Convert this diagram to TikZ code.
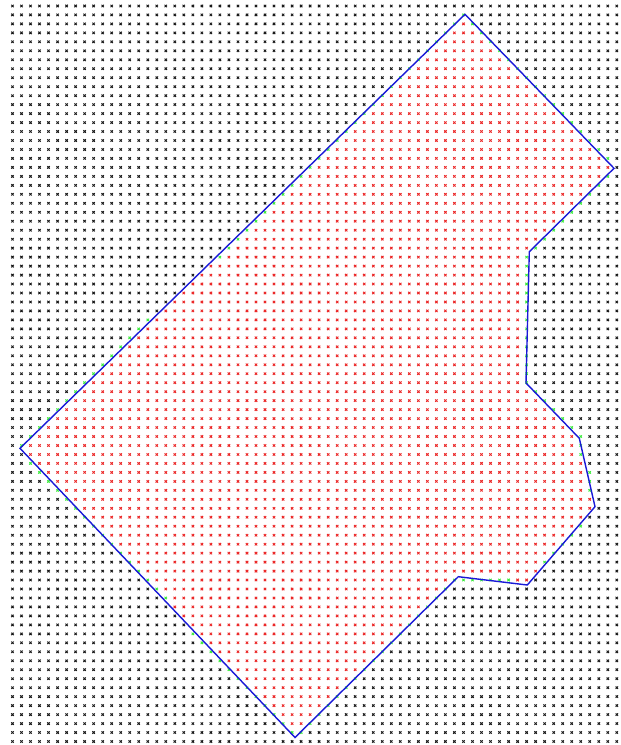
\documentclass[tikz,border=0pt]{standalone}
\newcount\zzPx \newcount\zzPy \newcount\zzWx \newcount\zzWy \newcount\zzTmp \newcount\zzCrs \newcount\zzA \newcount\zzB
\newif\ifzzIn \newif\ifzzGreen
\def\zzTol{28}
\def\zzTolSq{784}
\def\zzedgelist{}
% #1 ax, #2 dx, #3 dy
\def\zzcrosstest#1#2#3{%
  \zzTmp=\zzWy\relax
  \multiply\zzTmp by #2\relax
  \divide\zzTmp by #3\relax
  \advance\zzTmp by #1\relax
  \ifnum\zzPx<\zzTmp
    \ifzzIn\zzInfalse\else\zzIntrue\fi
  \fi}
% #1 ax #2 ay #3 dx #4 dy #5 L2 #6 Lt #7 by
\def\zzdoedge#1#2#3#4#5#6#7{%
  \zzWx=\zzPx\relax \advance\zzWx by -#1\relax
  \zzWy=\zzPy\relax \advance\zzWy by -#2\relax
  \ifnum#2>\zzPy
    \ifnum#7>\zzPy \else\zzcrosstest{#1}{#3}{#4}\fi
  \else
    \ifnum#7>\zzPy \zzcrosstest{#1}{#3}{#4}\fi
  \fi
  \zzTmp=\zzWx\relax \multiply\zzTmp by #3\relax
  \zzCrs=\zzWy\relax \multiply\zzCrs by #4\relax
  \advance\zzTmp by \zzCrs
  \ifnum\zzTmp<0
    \zzTmp=\zzWx\relax \multiply\zzTmp by \zzWx
    \zzCrs=\zzWy\relax \multiply\zzCrs by \zzWy
    \advance\zzTmp by \zzCrs
    \ifnum\zzTmp<\zzTolSq\relax\zzGreentrue\fi
  \else
    \ifnum\zzTmp>#5\relax\else
      \zzTmp=\zzWx\relax \multiply\zzTmp by #4\relax
      \zzCrs=\zzWy\relax \multiply\zzCrs by #3\relax
      \advance\zzTmp by -\zzCrs
      \ifnum\zzTmp<0 \zzTmp=-\zzTmp\fi
      \ifnum\zzTmp<#6\relax\zzGreentrue\fi
    \fi
  \fi}
% #1 ax #2 ay #3 bx #4 by #5 length (0.1px)
\def\zzaddedge#1#2#3#4#5{%
  \zzA=#3\relax \advance\zzA by -#1\relax
  \zzB=#4\relax \advance\zzB by -#2\relax
  \edef\zzdx{\the\zzA}\edef\zzdy{\the\zzB}%
  \multiply\zzA by \zzA
  \multiply\zzB by \zzB
  \advance\zzA by \zzB
  \edef\zzLtwo{\the\zzA}%
  \zzA=#5\relax \multiply\zzA by \zzTol\relax
  \edef\zzLt{\the\zzA}%
  \xdef\zzedgelist{\unexpanded\expandafter{\zzedgelist}\noexpand\zzdoedge{#1}{#2}{\zzdx}{\zzdy}{\zzLtwo}{\zzLt}{#4}}}
\zzaddedge{4650}{143}{6140}{1683}{2143}
\zzaddedge{6140}{1683}{5293}{2517}{1189}
\zzaddedge{5293}{2517}{5260}{3830}{1313}
\zzaddedge{5260}{3830}{5793}{4383}{768}
\zzaddedge{5793}{4383}{5950}{5067}{702}
\zzaddedge{5950}{5067}{5273}{5850}{1035}
\zzaddedge{5273}{5850}{4583}{5767}{695}
\zzaddedge{4583}{5767}{2950}{7375}{2292}
\zzaddedge{2950}{7375}{200}{4483}{3991}
\zzaddedge{200}{4483}{4650}{143}{6216}
\definecolor{mred}{RGB}{235,40,40}
\definecolor{mblack}{RGB}{25,25,25}
\definecolor{mgreen}{RGB}{60,235,60}
\definecolor{pblue}{RGB}{25,25,215}
\tikzset{mk/.style={line width=0.95pt}, outline/.style={pblue, line width=1.4pt, line join=miter}}
\begin{document}
\begin{tikzpicture}[x=0.1pt, y=-0.1pt]
\useasboundingbox (0,0) rectangle (6200,7450);
\foreach \zk in {0,...,67}{%
  \foreach \zj in {0,...,82}{%
    \zzPx=\zk\relax \multiply\zzPx by 902\relax \divide\zzPx by 10\relax \advance\zzPx by 125\relax
    \zzPy=\zj\relax \multiply\zzPy by 897\relax \divide\zzPy by 10\relax \advance\zzPy by 60\relax
    \zzInfalse\zzGreenfalse
    \zzedgelist
    \ifzzGreen\def\zzmc{mgreen}\else\ifzzIn\def\zzmc{mred}\else\def\zzmc{mblack}\fi\fi
    \edef\zzx{\the\zzPx}\edef\zzy{\the\zzPy}%
    \draw[mk,\zzmc] (\zzx,\zzy) +(-12,-12) -- +(12,12) +(-12,12) -- +(12,-12);
  }}
\coordinate (v1) at (4650,143);
\coordinate (v2) at (6140,1683);
\coordinate (v3) at (5293,2517);
\coordinate (v4) at (5260,3830);
\coordinate (v5) at (5793,4383);
\coordinate (v6) at (5950,5067);
\coordinate (v7) at (5273,5850);
\coordinate (v8) at (4583,5767);
\coordinate (v9) at (2950,7375);
\coordinate (v10) at (200,4483);
\draw[outline] (v1) -- (v2) -- (v3) -- (v4) -- (v5) -- (v6) -- (v7) -- (v8) -- (v9) -- (v10) -- cycle;
\end{tikzpicture}
\end{document}
